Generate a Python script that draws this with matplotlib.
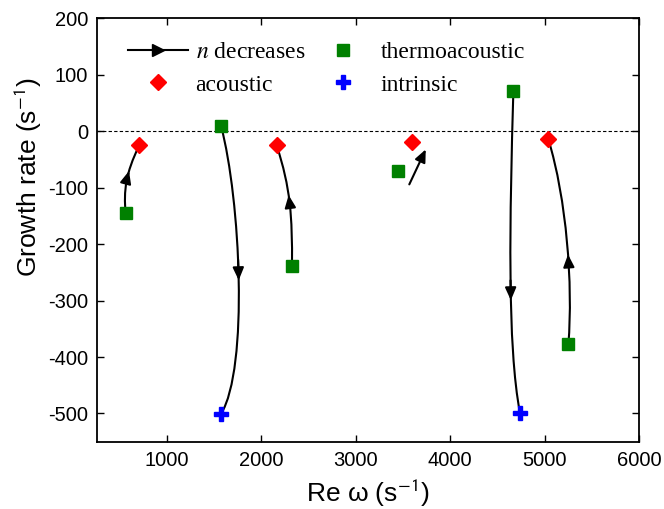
import numpy as np
import matplotlib
matplotlib.use("Agg")
import matplotlib.pyplot as plt
from matplotlib.path import Path
from matplotlib.patches import PathPatch
from matplotlib.lines import Line2D

plt.rcParams['axes.unicode_minus'] = False
plt.rcParams['mathtext.fontset'] = 'stix'

# ---- data ----
thermo_x = [566, 1575, 2326, 3451, 4668, 5250]
thermo_y = [-145, 10, -239, -70, 72, -377]
acoustic_x = [710, 2164, 3600, 5038]
acoustic_y = [-25, -25, -19, -14]
intrinsic_x = [1575, 4739]
intrinsic_y = [-501, -500]

# trajectory curves (cubic Bezier: start, control1, control2, end) and arrow position
curve_start = [(566, -145), (1575, 10), (2326, -239), (4668, 72), (5250, -377)]
curve_c1 = [(545, -105), (1780, -120), (2330, -150), (4630, -150), (5300, -270)]
curve_c2 = [(565, -75), (1870, -420), (2310, -100), (4600, -380), (5230, -120)]
curve_end = [(710, -25), (1575, -501), (2164, -25), (4739, -500), (5038, -14)]
curve_arrow_t = [0.66, 0.5, 0.57, 0.58, 0.44]

# short straight arrow
short_arrow_from = (3567, -94)
short_arrow_to = (3741, -32)

xticks = [1000, 2000, 3000, 4000, 5000, 6000]
yticks = [-500, -400, -300, -200, -100, 0, 100, 200]

fig = plt.figure(figsize=(6.64, 5.09), dpi=100)
ax = fig.add_axes([0.1456, 0.1322, 0.8172, 0.8315])
ax.set_xlim(260, 6000)
ax.set_ylim(-550, 200)

ax.axhline(0, color='k', lw=0.8, ls=(0, (3, 2)), zorder=1)


def bez(p0, p1, p2, p3, t):
    p0, p1, p2, p3 = map(np.asarray, (p0, p1, p2, p3))
    return ((1 - t) ** 3) * p0 + 3 * t * (1 - t) ** 2 * p1 + 3 * t ** 2 * (1 - t) * p2 + t ** 3 * p3


arrowstyle = '-|>,head_length=0.75,head_width=0.33'
for s, c1, c2, e, t in zip(curve_start, curve_c1, curve_c2, curve_end, curve_arrow_t):
    path = Path([s, c1, c2, e], [Path.MOVETO, Path.CURVE4, Path.CURVE4, Path.CURVE4])
    ax.add_patch(PathPatch(path, fc='none', ec='k', lw=1.5, zorder=2))
    tip = bez(s, c1, c2, e, t)
    tail = bez(s, c1, c2, e, t - 0.06)
    ax.annotate('', xy=tuple(tip), xytext=tuple(tail),
                arrowprops=dict(arrowstyle=arrowstyle, color='k', lw=1.5,
                                shrinkA=0, shrinkB=0, mutation_scale=10), zorder=3)

ax.annotate('', xy=short_arrow_to, xytext=short_arrow_from,
            arrowprops=dict(arrowstyle=arrowstyle, color='k', lw=1.5,
                            shrinkA=0, shrinkB=0, mutation_scale=10), zorder=3)

ax.plot(thermo_x, thermo_y, ls='none', marker='s', ms=8.5, color='#008000',
        mec='#008000', zorder=4)
ax.plot(acoustic_x, acoustic_y, ls='none', marker='D', ms=8, color='red',
        mec='red', zorder=4)
ax.plot(intrinsic_x, intrinsic_y, ls='none', marker='P', ms=10, color='blue',
        mec='blue', zorder=4)

ax.set_xticks(xticks)
ax.set_yticks(yticks)
ax.tick_params(direction='in', top=True, right=True, length=5, width=1,
               labelsize=14.5)
ax.tick_params(axis='x', pad=7)
ax.tick_params(axis='y', pad=6)
for lab in ax.get_xticklabels() + ax.get_yticklabels():
    lab.set_fontfamily('Liberation Sans')
for sp in ax.spines.values():
    sp.set_linewidth(1.3)

ax.set_xlabel('Re ω (s$^{\\mathsf{-1}}$)', fontsize=19, family='Liberation Sans', labelpad=5)
fig.text(28 / 664, 1 - 177 / 509, 'Growth rate (s$^{\\mathsf{-1}}$)', fontsize=19,
         family='Liberation Sans', rotation=90, ha='center', va='center')

handles = [
    Line2D([], [], color='k', lw=1.5, marker='>', ms=8),
    Line2D([], [], ls='none', marker='D', ms=8, color='red'),
    Line2D([], [], ls='none', marker='s', ms=8.5, color='#008000'),
    Line2D([], [], ls='none', marker='P', ms=10, color='blue'),
]
labels = ['$n$ decreases', 'acoustic', 'thermoacoustic', 'intrinsic']
ax.legend(handles, labels, loc='upper left', bbox_to_anchor=(0.019, 0.995), ncol=2,
          frameon=False, numpoints=1, handlelength=2.55, handletextpad=0.3,
          columnspacing=0.35, labelspacing=0.45,
          prop={'family': 'Liberation Serif', 'size': 17})

fig.savefig('out.png', dpi=100)
